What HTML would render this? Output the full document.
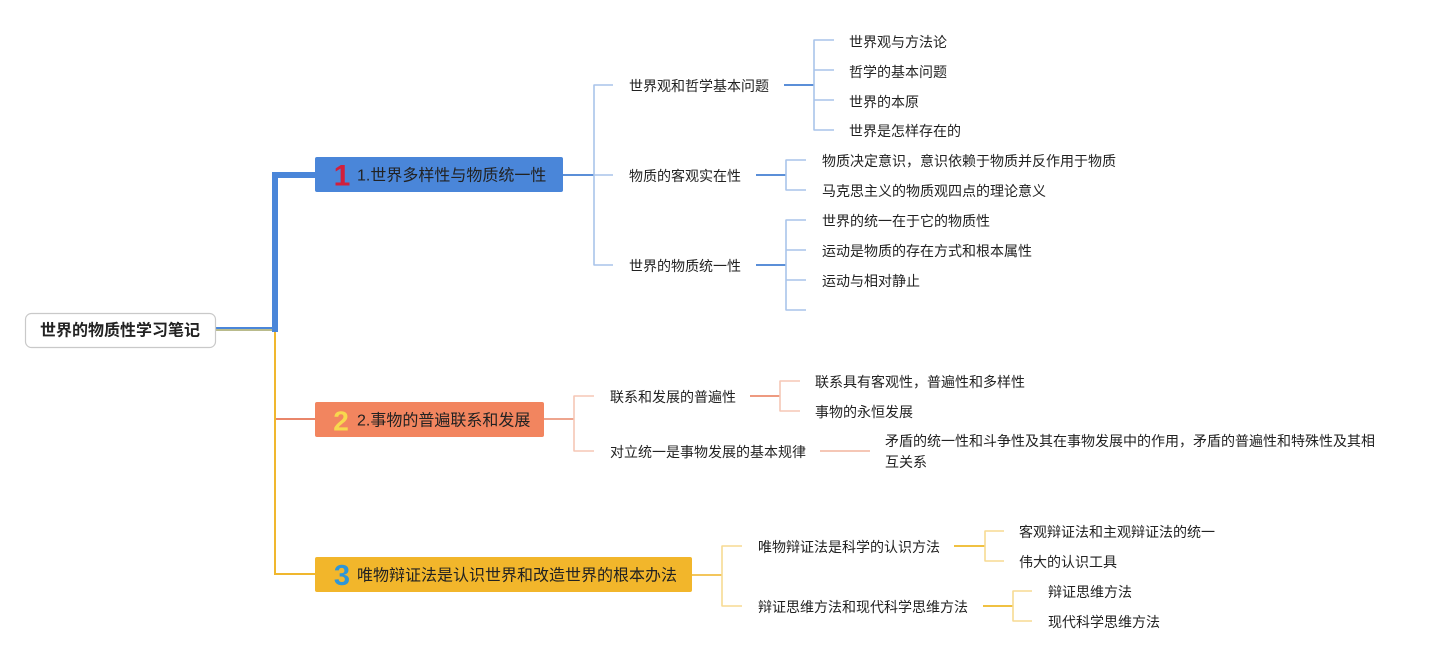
<!DOCTYPE html>
<html>
<head>
<meta charset="utf-8">
<style>
  html,body{margin:0;padding:0;background:#ffffff;}
  body{width:1445px;height:660px;overflow:hidden;}
  svg{display:block;}
  text{font-family:"Liberation Sans","Noto Sans CJK SC",sans-serif;fill:#222;}
  .t{font-size:14px;}
  .b{font-size:16px;}
</style>
</head>
<body>
<svg width="1445" height="660" viewBox="0 0 1445 660" xmlns="http://www.w3.org/2000/svg">
  <!-- root connectors -->
  <rect x="215" y="327" width="60" height="2" fill="#4a86d9"/>
  <rect x="215" y="329" width="60" height="2" fill="#b9bb8c"/>
  <rect x="274" y="331" width="2" height="244" fill="#f0b72e"/>
  <rect x="274" y="573" width="41" height="2" fill="#f0b72e"/>
  <rect x="276" y="418" width="39" height="2" fill="#e9866a"/>
  <rect x="272" y="172" width="6" height="160" fill="#4a86d9"/>
  <rect x="272" y="172" width="43" height="6" fill="#4a86d9"/>

  <!-- root node -->
  <rect x="25.5" y="313.5" width="190" height="34" rx="6" ry="6" fill="#ffffff" stroke="#c9c9c9" stroke-width="1.2"/>
  <text x="120" y="331" text-anchor="middle" dominant-baseline="central" font-size="16" font-weight="bold" fill="#111">世界的物质性学习笔记</text>

  <!-- main boxes -->
  <rect x="315" y="157" width="248" height="35" rx="2" fill="#4a86d9"/>
  <text x="342" y="176" text-anchor="middle" dominant-baseline="central" font-size="30" font-weight="bold" style="fill:#d21f3c">1</text>
  <text class="b" x="357" y="176" dominant-baseline="central">1.世界多样性与物质统一性</text>

  <rect x="315" y="402" width="229" height="35" rx="2" fill="#f2855f"/>
  <text x="341" y="421" text-anchor="middle" dominant-baseline="central" font-size="28" font-weight="bold" style="fill:#f8d84e">2</text>
  <text class="b" x="357" y="421" dominant-baseline="central">2.事物的普遍联系和发展</text>

  <rect x="315" y="557" width="377" height="35" rx="2" fill="#f2b62b"/>
  <text x="342" y="576" text-anchor="middle" dominant-baseline="central" font-size="29" font-weight="bold" style="fill:#2f96d6">3</text>
  <text class="b" x="357" y="576" dominant-baseline="central">唯物辩证法是认识世界和改造世界的根本办法</text>

  <!-- Branch 1 -->
  <g fill="none" stroke-linecap="butt">
    <line x1="563" y1="175" x2="594" y2="175" stroke="#5b8fd8" stroke-width="2"/>
    <line x1="594" y1="84.5" x2="594" y2="265.5" stroke="#a9c4ea" stroke-width="1.6"/>
    <line x1="594" y1="85" x2="613" y2="85" stroke="#a9c4ea" stroke-width="1.6"/>
    <line x1="594" y1="175" x2="613" y2="175" stroke="#a9c4ea" stroke-width="1.6"/>
    <line x1="594" y1="265" x2="613" y2="265" stroke="#a9c4ea" stroke-width="1.6"/>

    <line x1="784" y1="85" x2="814" y2="85" stroke="#5b8fd8" stroke-width="2"/>
    <line x1="814" y1="39.5" x2="814" y2="130.5" stroke="#a9c4ea" stroke-width="1.6"/>
    <line x1="814" y1="40" x2="834" y2="40" stroke="#a9c4ea" stroke-width="1.6"/>
    <line x1="814" y1="70" x2="834" y2="70" stroke="#a9c4ea" stroke-width="1.6"/>
    <line x1="814" y1="100" x2="834" y2="100" stroke="#a9c4ea" stroke-width="1.6"/>
    <line x1="814" y1="130" x2="834" y2="130" stroke="#a9c4ea" stroke-width="1.6"/>

    <line x1="756" y1="175" x2="786" y2="175" stroke="#5b8fd8" stroke-width="2"/>
    <line x1="786" y1="159.5" x2="786" y2="190.5" stroke="#a9c4ea" stroke-width="1.6"/>
    <line x1="786" y1="160" x2="806" y2="160" stroke="#a9c4ea" stroke-width="1.6"/>
    <line x1="786" y1="190" x2="806" y2="190" stroke="#a9c4ea" stroke-width="1.6"/>

    <line x1="756" y1="265" x2="786" y2="265" stroke="#5b8fd8" stroke-width="2"/>
    <line x1="786" y1="219.5" x2="786" y2="310.5" stroke="#a9c4ea" stroke-width="1.6"/>
    <line x1="786" y1="220" x2="806" y2="220" stroke="#a9c4ea" stroke-width="1.6"/>
    <line x1="786" y1="250" x2="806" y2="250" stroke="#a9c4ea" stroke-width="1.6"/>
    <line x1="786" y1="280" x2="806" y2="280" stroke="#a9c4ea" stroke-width="1.6"/>
    <line x1="786" y1="310" x2="806" y2="310" stroke="#a9c4ea" stroke-width="1.6"/>
  </g>
  <text class="t" x="629" y="86" dominant-baseline="central">世界观和哲学基本问题</text>
  <text class="t" x="629" y="176" dominant-baseline="central">物质的客观实在性</text>
  <text class="t" x="629" y="266" dominant-baseline="central">世界的物质统一性</text>

  <text class="t" x="849" y="42" dominant-baseline="central">世界观与方法论</text>
  <text class="t" x="849" y="72" dominant-baseline="central">哲学的基本问题</text>
  <text class="t" x="849" y="102" dominant-baseline="central">世界的本原</text>
  <text class="t" x="849" y="131" dominant-baseline="central">世界是怎样存在的</text>

  <text class="t" x="822" y="161" dominant-baseline="central">物质决定意识，意识依赖于物质并反作用于物质</text>
  <text class="t" x="822" y="191" dominant-baseline="central">马克思主义的物质观四点的理论意义</text>

  <text class="t" x="822" y="221" dominant-baseline="central">世界的统一在于它的物质性</text>
  <text class="t" x="822" y="251" dominant-baseline="central">运动是物质的存在方式和根本属性</text>
  <text class="t" x="822" y="281" dominant-baseline="central">运动与相对静止</text>

  <!-- Branch 2 -->
  <g fill="none">
    <line x1="544" y1="419" x2="574" y2="419" stroke="#eea58e" stroke-width="2"/>
    <line x1="574" y1="395.5" x2="574" y2="451.5" stroke="#f5c7b6" stroke-width="1.6"/>
    <line x1="574" y1="396" x2="594" y2="396" stroke="#f5c7b6" stroke-width="1.6"/>
    <line x1="574" y1="451" x2="594" y2="451" stroke="#f5c7b6" stroke-width="1.6"/>

    <line x1="750" y1="396" x2="780" y2="396" stroke="#ee9a80" stroke-width="2"/>
    <line x1="780" y1="380.5" x2="780" y2="411.5" stroke="#f5c7b6" stroke-width="1.6"/>
    <line x1="780" y1="381" x2="800" y2="381" stroke="#f5c7b6" stroke-width="1.6"/>
    <line x1="780" y1="411" x2="800" y2="411" stroke="#f5c7b6" stroke-width="1.6"/>

    <line x1="820" y1="451" x2="870" y2="451" stroke="#f5c7b6" stroke-width="2"/>
  </g>
  <text class="t" x="610" y="397" dominant-baseline="central">联系和发展的普遍性</text>
  <text class="t" x="610" y="452" dominant-baseline="central">对立统一是事物发展的基本规律</text>
  <text class="t" x="815" y="382" dominant-baseline="central">联系具有客观性，普遍性和多样性</text>
  <text class="t" x="815" y="412" dominant-baseline="central">事物的永恒发展</text>
  <text class="t" x="885" y="441" dominant-baseline="central">矛盾的统一性和斗争性及其在事物发展中的作用，矛盾的普遍性和特殊性及其相</text>
  <text class="t" x="885" y="462" dominant-baseline="central">互关系</text>

  <!-- Branch 3 -->
  <g fill="none">
    <line x1="692" y1="575" x2="722" y2="575" stroke="#f3c65c" stroke-width="2"/>
    <line x1="722" y1="545.5" x2="722" y2="606.5" stroke="#f7da92" stroke-width="1.6"/>
    <line x1="722" y1="546" x2="742" y2="546" stroke="#f7da92" stroke-width="1.6"/>
    <line x1="722" y1="606" x2="742" y2="606" stroke="#f7da92" stroke-width="1.6"/>

    <line x1="954" y1="546" x2="985" y2="546" stroke="#f0c142" stroke-width="2"/>
    <line x1="985" y1="530.5" x2="985" y2="561.5" stroke="#f7da92" stroke-width="1.6"/>
    <line x1="985" y1="531" x2="1004" y2="531" stroke="#f7da92" stroke-width="1.6"/>
    <line x1="985" y1="561" x2="1004" y2="561" stroke="#f7da92" stroke-width="1.6"/>

    <line x1="983" y1="606" x2="1013" y2="606" stroke="#f0c142" stroke-width="2"/>
    <line x1="1013" y1="590.5" x2="1013" y2="621.5" stroke="#f7da92" stroke-width="1.6"/>
    <line x1="1013" y1="591" x2="1032" y2="591" stroke="#f7da92" stroke-width="1.6"/>
    <line x1="1013" y1="621" x2="1032" y2="621" stroke="#f7da92" stroke-width="1.6"/>
  </g>
  <text class="t" x="758" y="547" dominant-baseline="central">唯物辩证法是科学的认识方法</text>
  <text class="t" x="758" y="607" dominant-baseline="central">辩证思维方法和现代科学思维方法</text>
  <text class="t" x="1019" y="532" dominant-baseline="central">客观辩证法和主观辩证法的统一</text>
  <text class="t" x="1019" y="562" dominant-baseline="central">伟大的认识工具</text>
  <text class="t" x="1048" y="592" dominant-baseline="central">辩证思维方法</text>
  <text class="t" x="1048" y="622" dominant-baseline="central">现代科学思维方法</text>
</svg>
</body>
</html>
